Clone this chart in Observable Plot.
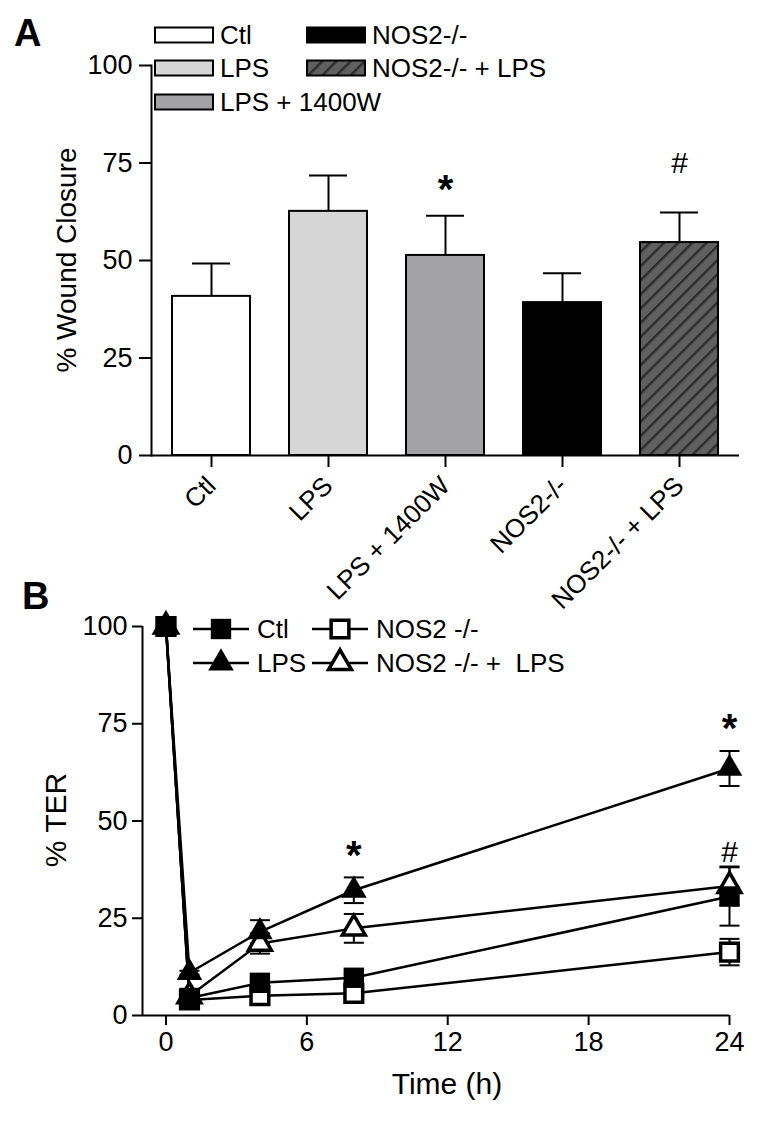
<!DOCTYPE html>
<html><head><meta charset="utf-8">
<script src="https://cdn.jsdelivr.net/npm/d3@7"></script>
<script src="https://cdn.jsdelivr.net/npm/@observablehq/plot@0.6"></script>
<style>
body{margin:0;background:#fff;}
#root{position:relative;width:758px;height:1144px;font-family:"Liberation Sans",Arial,sans-serif;color:#000;overflow:hidden;}
#root > *{position:absolute;}
</style></head><body><div id="root"></div>
<script>
// ---------- Panel A data ----------
const groupsA = ["Ctl", "LPS", "LPS + 1400W", "NOS2-/-", "NOS2-/- + LPS"];
const meanA = [40.8, 62.6, 51.3, 39.2, 54.6];
const upperA = [49.2, 71.8, 61.5, 46.7, 62.3];
const fillsA = ["#ffffff", "#d6d6d6", "#a3a3a6", "#000000", "url(#hatchA)"];
const sigLabelsA = ["", "", "*", "", "#"];
const sigPosA = [null, null, 68, null, 75];
const ticksA = [0, 25, 50, 75, 100];
const yTitleA = "% Wound Closure";

// ---------- Panel B data ----------
const timesB = [0, 1, 4, 8, 24];
const seriesB = ["Ctl", "LPS", "NOS2 -/-", "NOS2 -/- +  LPS"];
const ctlB = [100, 4.5, 8.4, 9.7, 30.6];
const ctlErrB = [0, 0.5, 1, 1, 7.5];
const lpsB = [100, 11, 21.5, 32.2, 63.5];
const lpsErrB = [0, 0.5, 3, 3.3, 4.5];
const nosB = [100, 4, 5.1, 5.7, 16.3];
const nosErrB = [0, 0.5, 1, 1, 3.4];
const nosLpsB = [100, 5, 18.5, 22.4, 33.3];
const nosLpsErrB = [0, 0.5, 2.6, 3.7, 5];
const sigTimesB = [8, 24, 24];
const sigPosB = [41, 73.5, 42];
const sigLabelsB = ["*", "*", "#"];
const ticksBx = [0, 6, 12, 18, 24];
const ticksBy = [0, 25, 50, 75, 100];
const xTitleB = "Time (h)";
const yTitleB = "% TER";

const FONT = "Liberation Sans, Arial, sans-serif";
const root = document.getElementById("root");
const NS = "http://www.w3.org/2000/svg";
const hatchDef = id => `<pattern id="${id}" patternUnits="userSpaceOnUse" width="10" height="10" patternTransform="rotate(45)">
  <rect width="10" height="10" fill="#606060"/><line x1="1" y1="0" x2="1" y2="10" stroke="#2e2e2e" stroke-width="3"/></pattern>`;

// ---------- Panel A ----------
const dataA = groupsA.map((g, i) => ({group: g, mean: meanA[i], upper: upperA[i], fill: fillsA[i]}));
const sigA = groupsA.map((g, i) => ({group: g, y: sigPosA[i], label: sigLabelsA[i]})).filter(d => d.label);

const chartA = Plot.plot({
  width: 758, height: 600,
  marginLeft: 151, marginRight: 19, marginTop: 65, marginBottom: 145,
  x: {domain: groupsA, paddingInner: 0.33, paddingOuter: 0.165, label: null},
  y: {domain: [0, 100], label: null},
  color: {type: "identity"},
  style: {fontFamily: FONT, fontSize: "26px", color: "#000", background: "transparent", overflow: "visible"},
  marks: [
    Plot.ruleX(dataA, {x: "group", y1: "mean", y2: "upper", strokeWidth: 2}),
    Plot.tickY(dataA, {x: "group", y: "upper", strokeWidth: 2, insetLeft: 20, insetRight: 20}),
    Plot.barY(dataA, {x: "group", y: "mean", fill: "fill", stroke: "#000", strokeWidth: 2}),
    Plot.text(sigA.filter(d => d.label === "*"), {x: "group", y: "y", text: "label", fontSize: 40, fontWeight: "bold"}),
    Plot.text(sigA.filter(d => d.label === "#"), {x: "group", y: "y", text: "label", fontSize: 30}),
    Plot.axisY({ticks: ticksA, tickSize: 12, tickPadding: 7, strokeWidth: 2, fontSize: 27, label: null}),
    Plot.axisX({tickSize: 12, tickPadding: 14, tickRotate: -45, strokeWidth: 2, fontSize: 26, label: null}),
    Plot.ruleY([0], {strokeWidth: 2}),
    Plot.frame({anchor: "left", strokeWidth: 2})
  ]
});
const defsA = document.createElementNS(NS, "defs");
defsA.innerHTML = hatchDef("hatchA");
chartA.prepend(defsA);
chartA.style.left = "0px"; chartA.style.top = "0px";
root.appendChild(chartA);

// ---------- Panel B ----------
const mB = [ctlB, lpsB, nosB, nosLpsB];
const eB = [ctlErrB, lpsErrB, nosErrB, nosLpsErrB];
const dataB = [];
seriesB.forEach((s, k) => timesB.forEach((t, i) => dataB.push({series: s, t, v: mB[k][i], e: eB[k][i]})));
const errB = dataB.filter(d => d.e > 0);
const sigB = sigTimesB.map((t, i) => ({t, y: sigPosB[i], label: sigLabelsB[i]}));

const capSymbol = {draw(ctx, size) { const w = Math.sqrt(size); ctx.moveTo(-w, 0); ctx.lineTo(w, 0); }};
const bySeries = s => dataB.filter(d => d.series === s);

const chartB = Plot.plot({
  width: 758, height: 574,
  marginLeft: 142, marginRight: 29, marginTop: 56, marginBottom: 129,
  x: {domain: [-1, 24], label: null},
  y: {domain: [0, 100], label: null},
  style: {fontFamily: FONT, fontSize: "26px", color: "#000", background: "transparent", overflow: "visible"},
  marks: [
    Plot.line(dataB, {x: "t", y: "v", z: "series", stroke: "#000", strokeWidth: 2.5}),
    Plot.ruleX(errB, {x: "t", y1: d => d.v - d.e, y2: d => d.v + d.e, strokeWidth: 2}),
    Plot.dot(errB, {x: "t", y: d => d.v + d.e, symbol: capSymbol, r: 5.64, fill: "none", stroke: "#000", strokeWidth: 2}),
    Plot.dot(errB, {x: "t", y: d => d.v - d.e, symbol: capSymbol, r: 5.64, fill: "none", stroke: "#000", strokeWidth: 2}),
    Plot.dot(bySeries(seriesB[2]), {x: "t", y: "v", symbol: "square", r: 10, fill: "#fff", stroke: "#000", strokeWidth: 3.5}),
    Plot.dot(bySeries(seriesB[3]), {x: "t", y: "v", symbol: "triangle", r: 8.5, fill: "#fff", stroke: "#000", strokeWidth: 3.5}),
    Plot.dot(bySeries(seriesB[1]), {x: "t", y: "v", symbol: "triangle", r: 9.5, fill: "#000", stroke: "none"}),
    Plot.dot(bySeries(seriesB[0]), {x: "t", y: "v", symbol: "square", r: 11.5, fill: "#000", stroke: "none"}),
    Plot.text(sigB.filter(d => d.label === "*"), {x: "t", y: "y", text: "label", fontSize: 40, fontWeight: "bold"}),
    Plot.text(sigB.filter(d => d.label === "#"), {x: "t", y: "y", text: "label", fontSize: 30}),
    Plot.axisY({ticks: ticksBy, tickSize: 10, tickPadding: 5, strokeWidth: 2, fontSize: 27, label: null}),
    Plot.axisX({ticks: ticksBx, tickSize: 10, tickPadding: 6, strokeWidth: 2, fontSize: 27, label: null}),
    Plot.ruleY([0], {strokeWidth: 2}),
    Plot.ruleX([-1], {y1: 0, y2: 100, strokeWidth: 2})
  ]
});
chartB.style.left = "0px"; chartB.style.top = "570px";
root.appendChild(chartB);

// ---------- Overlay: panel letters, legends, axis titles ----------
const ov = document.createElementNS(NS, "svg");
ov.setAttribute("width", 758); ov.setAttribute("height", 1144);
ov.style.left = "0px"; ov.style.top = "0px";
let h = `<defs>${hatchDef("hatchL")}</defs>`;
h += `<text x="14" y="46" font-family="${FONT}" font-size="38" font-weight="bold">A</text>`;
h += `<text x="22" y="609" font-family="${FONT}" font-size="38" font-weight="bold">B</text>`;
h += `<text transform="translate(66,260) rotate(-90)" text-anchor="middle" dy="0.36em" font-family="${FONT}" font-size="28">${yTitleA}</text>`;
h += `<text transform="translate(55,820) rotate(-90)" text-anchor="middle" dy="0.36em" font-family="${FONT}" font-size="30">${yTitleB}</text>`;
h += `<text x="447" y="1083" text-anchor="middle" dy="0.36em" font-family="${FONT}" font-size="30">${xTitleB}</text>`;

// Legend A
const legItemsA = [
  {g: 0, col: 0, row: 0}, {g: 1, col: 0, row: 1}, {g: 2, col: 0, row: 2},
  {g: 3, col: 1, row: 0}, {g: 4, col: 1, row: 1}
];
const colX = [155, 307], rowY = [35, 68, 102];
legItemsA.forEach(it => {
  const x = colX[it.col], y = rowY[it.row];
  const f = fillsA[it.g] === "url(#hatchA)" ? "url(#hatchL)" : fillsA[it.g];
  h += `<rect x="${x}" y="${y - 7.5}" width="58" height="15" fill="${f}" stroke="#000" stroke-width="2"/>`;
  h += `<text x="${x + 65}" y="${y}" dy="0.36em" font-family="${FONT}" font-size="26">${groupsA[it.g]}</text>`;
});

// Legend B
const symPath = (type, size) => d3.symbol(type, size)();
const legItemsB = [
  {k: 0, col: 0, row: 0, type: d3.symbolSquare, size: Math.PI * 11.5 * 11.5, fill: "#000", stroke: "none", sw: 0},
  {k: 1, col: 0, row: 1, type: d3.symbolTriangle, size: Math.PI * 9.5 * 9.5, fill: "#000", stroke: "none", sw: 0},
  {k: 2, col: 1, row: 0, type: d3.symbolSquare, size: Math.PI * 10 * 10, fill: "#fff", stroke: "#000", sw: 3.5},
  {k: 3, col: 1, row: 1, type: d3.symbolTriangle, size: Math.PI * 8.5 * 8.5, fill: "#fff", stroke: "#000", sw: 3.5}
];
const colBx = [193, 312], rowBy = [629, 663];
legItemsB.forEach(it => {
  const x = colBx[it.col], y = rowBy[it.row];
  h += `<line x1="${x}" x2="${x + 56}" y1="${y}" y2="${y}" stroke="#000" stroke-width="2.5"/>`;
  h += `<path transform="translate(${x + 28},${y})" d="${symPath(it.type, it.size)}" fill="${it.fill}" stroke="${it.stroke}" stroke-width="${it.sw}"/>`;
  h += `<text x="${x + 64}" y="${y}" dy="0.36em" font-family="${FONT}" font-size="26" xml:space="preserve" style="white-space:pre">${seriesB[it.k]}</text>`;
});
ov.innerHTML = h;
root.appendChild(ov);
</script></body></html>
